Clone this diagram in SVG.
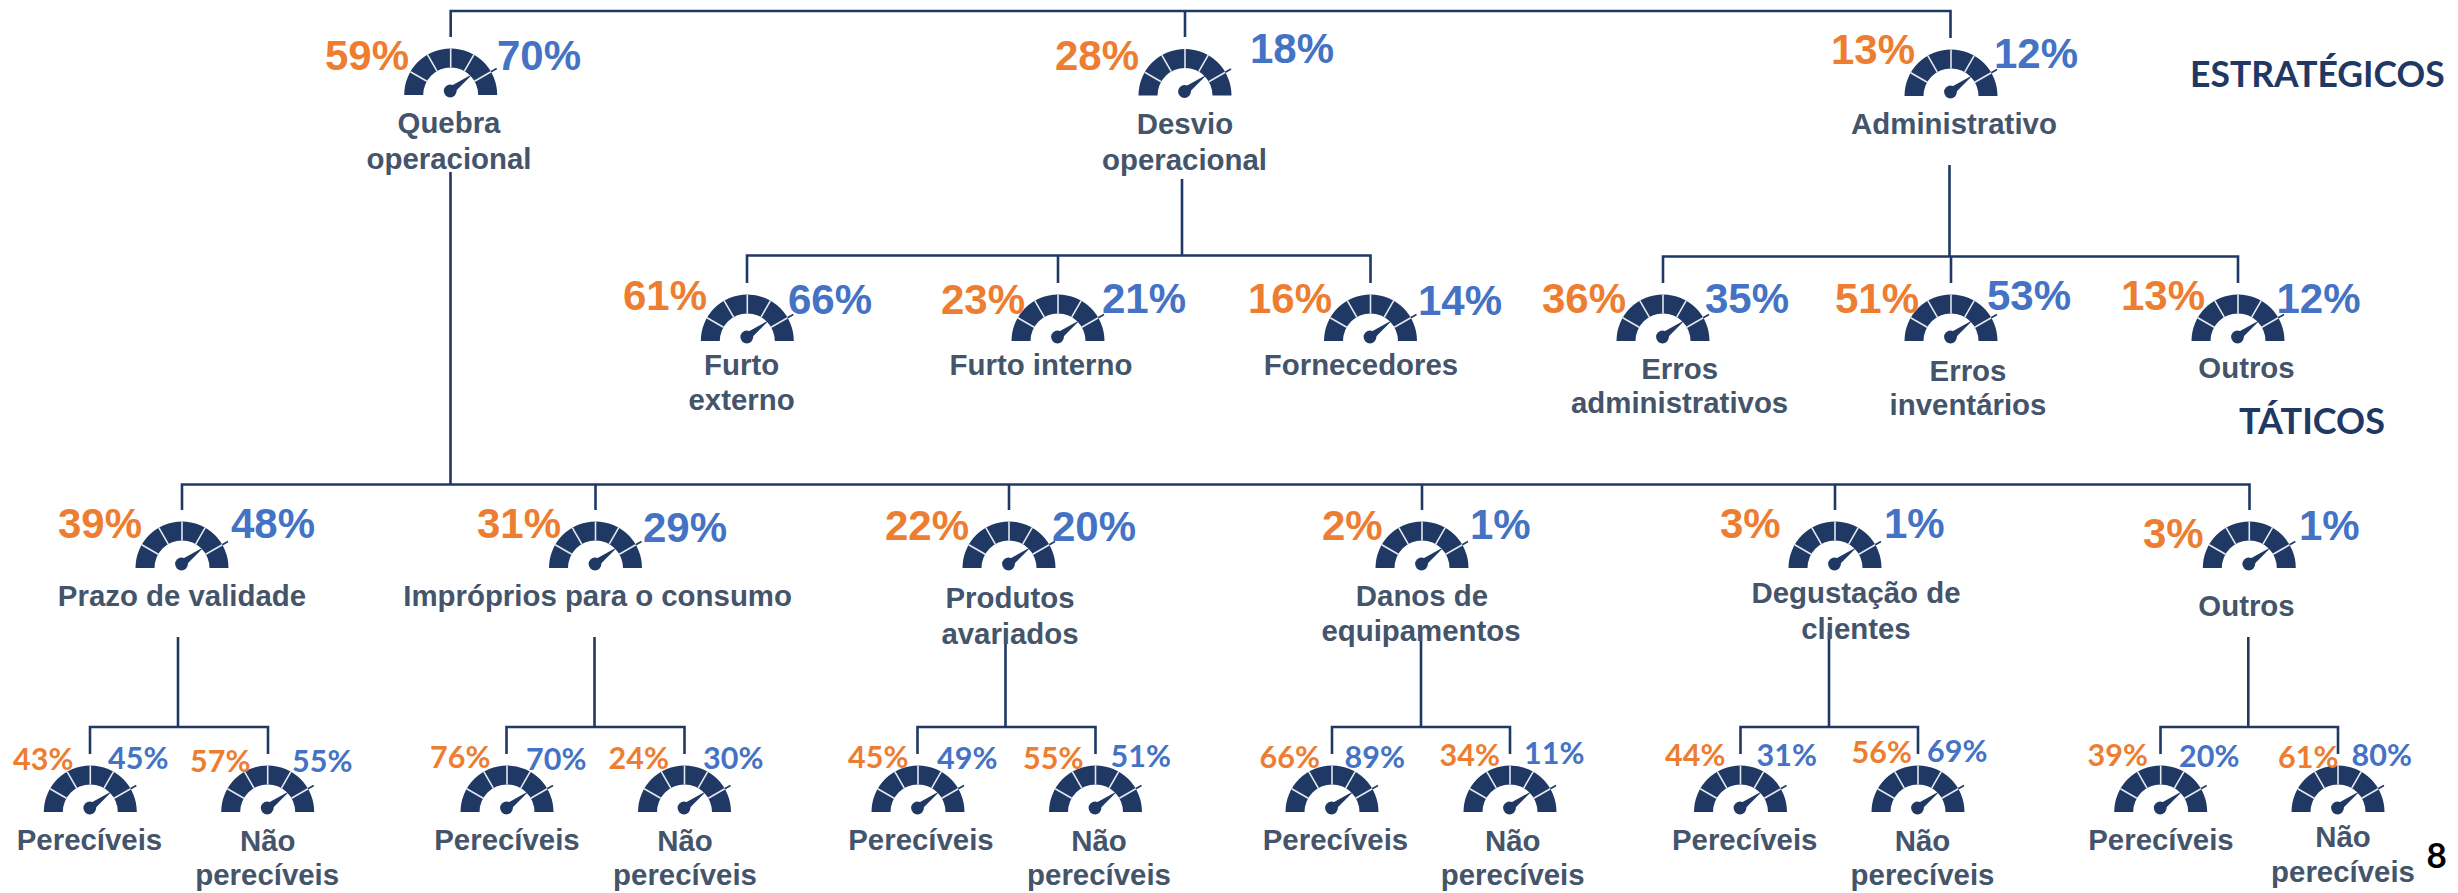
<svg xmlns="http://www.w3.org/2000/svg" width="2458" height="893" viewBox="0 0 2458 893">
<style>
text{font-family:"Liberation Sans",Arial,sans-serif;font-weight:700}
.l{font-size:29.4px;fill:#44546A;text-anchor:middle}
.p{font-size:42px}
.q{font-size:30.5px;font-family:Lato,"Liberation Sans",sans-serif}
.o{fill:#ED7D31}
.b{fill:#4472C4}
.h{font-family:Lato,"Liberation Sans",sans-serif;fill:#1F3864}
#c path{fill:none;stroke:#1F3864;stroke-width:2.6}
</style>
<defs>
<g id="g">
<path fill="#1F3864" d="M-46.5 0A46.5 46.5 0 0 1 46.5 0H27.5A27.5 27.5 0 0 0-27.5 0Z"/>
<path fill="none" stroke="#E4E8EF" stroke-width="1.6" d="M-40.3-23.2L-23.8-13.7M-23.2-40.3L-13.7-23.8M0-46.5V-27.5M23.2-40.3L13.7-23.8M40.3-23.2L23.8-13.7"/>
<path fill="none" stroke="#1F3864" stroke-width="1.6" d="M40.3-23.2L46-26.5"/>
<circle cx="-.5" cy="-4" r="6.4" fill="#1F3864"/>
<path fill="#1F3864" d="M22-21L1.9-.8L-2.9-7.2Z"/>
</g>
</defs>
<rect width="2458" height="893" fill="#fff"/>
<g id="c">
<path d="M450.7 37V11H1950.5V38M1185 11V37"/>
<path d="M1182 179V255.5M747 283V255.5H1370.5V283M1058 255.5V283"/>
<path d="M1949.5 165V256.5M1663 283V256.5H2238V283M1951 256.5V283"/>
<path d="M450.5 172V484.5M182 510V484.5H2249.5V510M595.5 484.5V510M1009 484.5V510M1422 484.5V510M1835 484.5V510"/>
<path d="M178 637V727M90 754V727H268V754"/>
<path d="M594.5 637V727M506.5 754V727H684.5V754"/>
<path d="M1005.5 632V727M917.5 754V727H1095.5V754"/>
<path d="M1421 632V727M1332 754V727H1510V754"/>
<path d="M1829 632V727M1740.5 754V727H1918V754"/>
<path d="M2248.3 637V727M2160.5 754V727H2338V754"/>
</g>
<g id="quebra"><use href="#g" x="450.7" y="95"/><text class="p o" x="325" y="70">59%</text><text class="p b" x="497" y="70">70%</text><text class="l" x="449" y="133">Quebra</text><text class="l" x="449" y="169">operacional</text></g>
<g id="desvio"><use href="#g" x="1185" y="95.5"/><text class="p o" x="1055" y="70">28%</text><text class="p b" x="1250" y="63">18%</text><text class="l" x="1185" y="134">Desvio</text><text class="l" x="1184.5" y="170">operacional</text></g>
<g id="administrativo"><use href="#g" x="1951" y="96"/><text class="p o" x="1831" y="64">13%</text><text class="p b" x="1994" y="67.5">12%</text><text class="l" x="1954" y="134">Administrativo</text></g>
<g id="furto-externo"><use href="#g" x="747.3" y="341"/><text class="p o" x="623" y="310">61%</text><text class="p b" x="788" y="314">66%</text><text class="l" x="741.6" y="375">Furto</text><text class="l" x="741.6" y="409.5">externo</text></g>
<g id="furto-interno"><use href="#g" x="1058" y="341"/><text class="p o" x="941" y="314">23%</text><text class="p b" x="1102" y="313">21%</text><text class="l" x="1041" y="375">Furto interno</text></g>
<g id="fornecedores"><use href="#g" x="1370.5" y="341"/><text class="p o" x="1248" y="313">16%</text><text class="p b" x="1418" y="315">14%</text><text class="l" x="1361" y="375">Fornecedores</text></g>
<g id="erros-adm"><use href="#g" x="1663" y="341"/><text class="p o" x="1542" y="313">36%</text><text class="p b" x="1705" y="313">35%</text><text class="l" x="1679.6" y="378.5">Erros</text><text class="l" x="1679.6" y="413">administrativos</text></g>
<g id="erros-inv"><use href="#g" x="1951" y="341"/><text class="p o" x="1835" y="313">51%</text><text class="p b" x="1987" y="310">53%</text><text class="l" x="1968" y="380.5">Erros</text><text class="l" x="1968" y="415">inventários</text></g>
<g id="outros-adm"><use href="#g" x="2238" y="341"/><text class="p o" x="2121" y="310">13%</text><text class="p b" x="2276.5" y="312.5">12%</text><text class="l" x="2246.5" y="377.5">Outros</text></g>
<text class="h" x="2190" y="86.5" font-size="35.5">ESTRATÉGICOS</text>
<text class="h" x="2239" y="434" font-size="36">TÁTICOS</text>
<g id="prazo"><use href="#g" x="182" y="568"/><text class="p o" x="58" y="538">39%</text><text class="p b" x="231" y="538">48%</text><text class="l" x="182" y="605.5">Prazo de validade</text></g>
<g id="improprios"><use href="#g" x="595.5" y="568"/><text class="p o" x="477" y="537.5">31%</text><text class="p b" x="643" y="541.5">29%</text><text class="l" x="597.6" y="605.5">Impróprios para o consumo</text></g>
<g id="produtos"><use href="#g" x="1009" y="568"/><text class="p o" x="885" y="540">22%</text><text class="p b" x="1052" y="541">20%</text><text class="l" x="1010" y="607.5">Produtos</text><text class="l" x="1010" y="643.5">avariados</text></g>
<g id="danos"><use href="#g" x="1422" y="568"/><text class="p o" x="1322" y="540">2%</text><text class="p b" x="1470" y="539">1%</text><text class="l" x="1422" y="605.5">Danos de</text><text class="l" x="1421" y="640.5">equipamentos</text></g>
<g id="degustacao"><use href="#g" x="1835" y="568"/><text class="p o" x="1720" y="538">3%</text><text class="p b" x="1884" y="538">1%</text><text class="l" x="1856" y="602.5">Degustação de</text><text class="l" x="1856" y="638.5">clientes</text></g>
<g id="outros"><use href="#g" x="2249.3" y="568"/><text class="p o" x="2143" y="547.5">3%</text><text class="p b" x="2299" y="540">1%</text><text class="l" x="2246.5" y="616">Outros</text></g>
<g id="pa1"><use href="#g" x="90.3" y="812"/><text class="q o" x="13" y="770">43%</text><text class="q b" x="108" y="769">45%</text><text class="l" x="89.5" y="850">Perecíveis</text></g>
<g id="pa2"><use href="#g" x="267.7" y="812"/><text class="q o" x="190" y="772">57%</text><text class="q b" x="292" y="772">55%</text><text class="l" x="267.7" y="850.5">Não</text><text class="l" x="267.2" y="885">perecíveis</text></g>
<g id="pb1"><use href="#g" x="507" y="812"/><text class="q o" x="430" y="768">76%</text><text class="q b" x="526" y="770">70%</text><text class="l" x="507" y="850">Perecíveis</text></g>
<g id="pb2"><use href="#g" x="684.5" y="812"/><text class="q o" x="608.5" y="769">24%</text><text class="q b" x="703" y="769">30%</text><text class="l" x="685" y="850.5">Não</text><text class="l" x="685" y="885">perecíveis</text></g>
<g id="pc1"><use href="#g" x="918" y="812"/><text class="q o" x="848" y="768">45%</text><text class="q b" x="937" y="769">49%</text><text class="l" x="921" y="850">Perecíveis</text></g>
<g id="pc2"><use href="#g" x="1095.5" y="812"/><text class="q o" x="1023" y="769">55%</text><text class="q b" x="1110.5" y="767">51%</text><text class="l" x="1099" y="850.5">Não</text><text class="l" x="1099" y="885">perecíveis</text></g>
<g id="pd1"><use href="#g" x="1332" y="812"/><text class="q o" x="1259.5" y="767.5">66%</text><text class="q b" x="1344.5" y="767.5">89%</text><text class="l" x="1335.5" y="850">Perecíveis</text></g>
<g id="pd2"><use href="#g" x="1510" y="812"/><text class="q o" x="1439.5" y="765.5">34%</text><text class="q b" x="1524" y="764">11%</text><text class="l" x="1512.7" y="850.5">Não</text><text class="l" x="1512.7" y="885">perecíveis</text></g>
<g id="pe1"><use href="#g" x="1740.5" y="812"/><text class="q o" x="1665" y="766">44%</text><text class="q b" x="1756.5" y="766">31%</text><text class="l" x="1744.7" y="850">Perecíveis</text></g>
<g id="pe2"><use href="#g" x="1918" y="812"/><text class="q o" x="1851.5" y="763">56%</text><text class="q b" x="1927" y="761.5">69%</text><text class="l" x="1922.5" y="850.5">Não</text><text class="l" x="1922.5" y="885">perecíveis</text></g>
<g id="pf1"><use href="#g" x="2160.7" y="812"/><text class="q o" x="2087.5" y="765.5">39%</text><text class="q b" x="2179" y="766.5">20%</text><text class="l" x="2161" y="850">Perecíveis</text></g>
<g id="pf2"><use href="#g" x="2338" y="812"/><text class="q o" x="2278" y="767.5">61%</text><text class="q b" x="2351.5" y="766">80%</text><text class="l" x="2343" y="846.5">Não</text><text class="l" x="2343" y="881.5">perecíveis</text></g>
<text x="2436.7" y="868" font-size="35" text-anchor="middle" style="font-family:Lato,'Liberation Sans',sans-serif;fill:#000">8</text>
</svg>
